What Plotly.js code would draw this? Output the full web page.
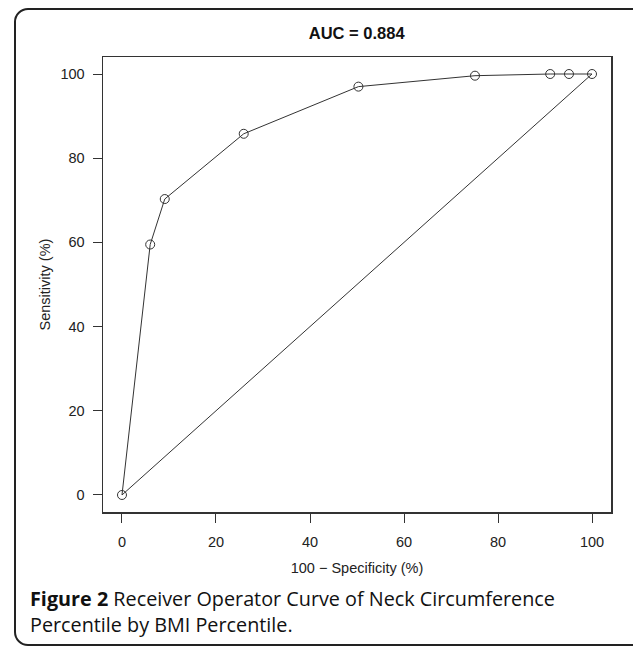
<!DOCTYPE html>
<html>
<head>
<meta charset="utf-8">
<script src="https://cdn.plot.ly/plotly-3.0.1.min.js"></script>
<style>
  html, body { margin: 0; padding: 0; background: #fff; overflow: hidden; }
  #wrap { position: relative; width: 633px; height: 647px; }
  #frame { position: absolute; left: 14px; top: 8px; width: 650px; height: 638px;
           border: 2px solid #222; border-radius: 14px; box-sizing: border-box; pointer-events: none; }
  #chart { position: absolute; left: 0; top: 0; width: 633px; height: 647px; }
</style>
</head>
<body>
<div id="wrap">
  <div id="chart"></div>
  <div id="frame"></div>
</div>
<script>
// ROC points
const falsePositiveRate = [0, 6.0, 9.1, 25.9, 50.3, 75.1, 91.1, 95.1, 100];
const sensitivity      = [0, 59.5, 70.3, 85.8, 97.0, 99.6, 100, 100, 100];
// reference diagonal
const diagX = [0, 100];
const diagY = [0, 100];
const tickVals = [0, 20, 40, 60, 80, 100];
const tickText = ['0', '20', '40', '60', '80', '100'];
const chartTitle = 'AUC = 0.884';
const xTitle = '100 \u2212 Specificity (%)';
const yTitle = 'Sensitivity (%)';
const captionBold = 'Figure 2';
const captionRest = ' Receiver Operator Curve of Neck Circumference<br>Percentile by BMI Percentile.';

const lineCol = '#333';
const traces = [
  { x: diagX, y: diagY, type: 'scatter', mode: 'lines',
    line: { color: lineCol, width: 1 }, hoverinfo: 'skip' },
  { x: falsePositiveRate, y: sensitivity, type: 'scatter', mode: 'lines+markers',
    line: { color: lineCol, width: 1 },
    marker: { symbol: 'circle-open', size: 9, color: lineCol, line: { width: 1, color: lineCol } } }
];

const axisFont = { family: 'Liberation Sans, Arial, sans-serif', size: 14.5, color: '#222' };
const layout = {
  width: 633, height: 647,
  margin: { l: 103, r: 22, t: 57, b: 135 },
  paper_bgcolor: 'rgba(0,0,0,0)', plot_bgcolor: '#fff',
  showlegend: false,
  title: { text: '<b>' + chartTitle + '</b>', x: 0.5635, xanchor: 'center', y: 1 - 33 / 647, yanchor: 'middle',
           font: { family: 'Liberation Sans, Arial, sans-serif', size: 16.5, color: '#111' } },
  xaxis: {
    range: [-4.04, 104.04], tickvals: tickVals, ticktext: tickText,
    showgrid: false, zeroline: false, showline: true, mirror: true,
    linecolor: lineCol, linewidth: 1.5,
    ticks: 'outside', ticklen: 9, tickwidth: 1, tickcolor: lineCol,
    ticklabelstandoff: 7,
    tickfont: axisFont,
    title: { text: xTitle, font: axisFont, standoff: 14 }
  },
  yaxis: {
    range: [-4.04, 104.04], tickvals: tickVals, ticktext: tickText,
    showgrid: false, zeroline: false, showline: true, mirror: true,
    linecolor: lineCol, linewidth: 1.5,
    ticks: 'outside', ticklen: 9, tickwidth: 1, tickcolor: lineCol,
    ticklabelstandoff: 5,
    tickfont: axisFont,
    title: { text: yTitle, font: axisFont, standoff: 6 }
  },
  annotations: [
    { xref: 'paper', yref: 'paper', x: (28 - 103) / 508, y: -(611 - 512) / 455,
      xanchor: 'left', yanchor: 'middle', align: 'left', showarrow: false,
      text: '<b>' + captionBold + '</b>' + captionRest,
      font: { family: 'Open Sans, Noto Sans, sans-serif', size: 19.8, color: '#111' } }
  ]
};

Plotly.newPlot('chart', traces, layout, { displayModeBar: false, staticPlot: true });
</script>
</body>
</html>
